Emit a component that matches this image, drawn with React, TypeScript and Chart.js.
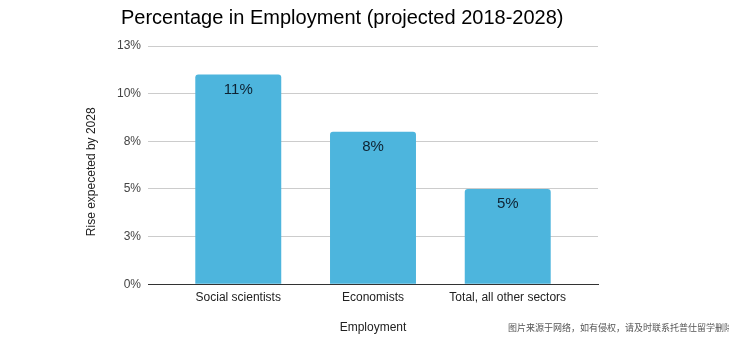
import React, { useEffect, useRef } from "react";
import { Chart, registerables } from "chart.js";

Chart.register(...registerables);

const categories = ["Social scientists", "Economists", "Total, all other sectors"];
const riseValues = [11, 8, 5];
const yTicks = [0, 2.5, 5, 7.5, 10, 12.5];
const chartTitle = "Percentage in Employment (projected 2018-2028)";
const xTitle = "Employment";
const yTitle = "Rise expeceted by 2028";
const watermark = "图片来源于网络，如有侵权，请及时联系托普仕留学删除";

const FONT = "Arial, 'Liberation Sans', sans-serif";

const titlePlugin = {
  id: "leftTitle",
  afterDraw(chart: any) {
    const { ctx, chartArea } = chart;
    ctx.save();
    ctx.font = `20px ${FONT}`;
    ctx.fillStyle = "#000";
    ctx.textAlign = "left";
    ctx.textBaseline = "middle";
    ctx.fillText(chartTitle, chartArea.left - 27, 18);
    ctx.restore();
  },
};

const valueLabelPlugin = {
  id: "valueLabels",
  afterDatasetsDraw(chart: any) {
    const { ctx } = chart;
    const meta = chart.getDatasetMeta(0);
    ctx.save();
    ctx.font = `15px ${FONT}`;
    ctx.fillStyle = "#0e2232";
    ctx.textAlign = "center";
    ctx.textBaseline = "middle";
    meta.data.forEach((bar: any, i: number) => {
      ctx.fillText(`${riseValues[i]}%`, bar.x, bar.y + 15);
    });
    ctx.restore();
  },
};

export default function App() {
  const ref = useRef<HTMLCanvasElement>(null);

  useEffect(() => {
    document.body.style.margin = "0";
    if (!ref.current) return;
    const chart = new Chart(ref.current, {
      type: "bar",
      data: {
        datasets: [
          {
            data: riseValues.map((v, i) => ({ x: i, y: v })),
            backgroundColor: "#4db5dd",
            borderRadius: 3,
            borderSkipped: "bottom",
            barPercentage: 0.638,
            categoryPercentage: 1,
          },
        ],
      },
      options: {
        animation: false,
        responsive: false,
        layout: { padding: { top: 46, left: 80, right: 131, bottom: 2 } },
        plugins: {
          legend: { display: false },
          title: { display: false },
          tooltip: { enabled: false },
        },
        scales: {
          x: {
            type: "linear",
            offset: false,
            min: -0.67,
            max: 2.67,
            afterBuildTicks(scale: any) {
              scale.ticks = categories.map((_, i) => ({ value: i }));
            },
            ticks: {
              callback: (v: any) => categories[v as number] ?? "",
              font: { family: FONT, size: 12 },
              color: "#222",
              padding: 6,
              maxRotation: 0,
              autoSkip: false,
            },
            grid: { display: false, drawTicks: false, offset: false },
            border: { display: true, color: "#333", width: 1 },
            title: {
              display: true,
              text: xTitle,
              font: { family: FONT, size: 12 },
              color: "#222",
              padding: { top: 10, bottom: 1 },
            },
          },
          y: {
            min: 0,
            max: 12.5,
            afterBuildTicks(scale: any) {
              scale.ticks = yTicks.map((v) => ({ value: v }));
            },
            afterFit(scale: any) {
              scale.width = 68;
            },
            ticks: {
              callback: (v: any) => `${Math.round(v as number)}%`,
              font: { family: FONT, size: 12 },
              color: "#444",
              padding: 7,
            },
            grid: {
              drawTicks: false,
              color: (c: any) => (c.tick && c.tick.value === 0 ? "#333" : "#cccccc"),
            },
            border: { display: false },
            title: {
              display: true,
              text: yTitle + "\u00a0\u00a0\u00a0\u00a0",
              font: { family: FONT, size: 12 },
              color: "#222",
            },
          },
        },
      },
      plugins: [titlePlugin, valueLabelPlugin],
    } as any);
    return () => chart.destroy();
  }, []);

  return (
    <div style={{ position: "relative", width: 729, height: 338, overflow: "hidden", background: "#fff" }}>
      <canvas ref={ref} width={729} height={338} style={{ display: "block" }} />
      <div
        style={{
          position: "absolute",
          left: 508,
          top: 321,
          fontSize: 9,
          color: "#555",
          whiteSpace: "nowrap",
          fontFamily: "'Noto Sans CJK SC', sans-serif",
        }}
      >
        {watermark}
      </div>
    </div>
  );
}
